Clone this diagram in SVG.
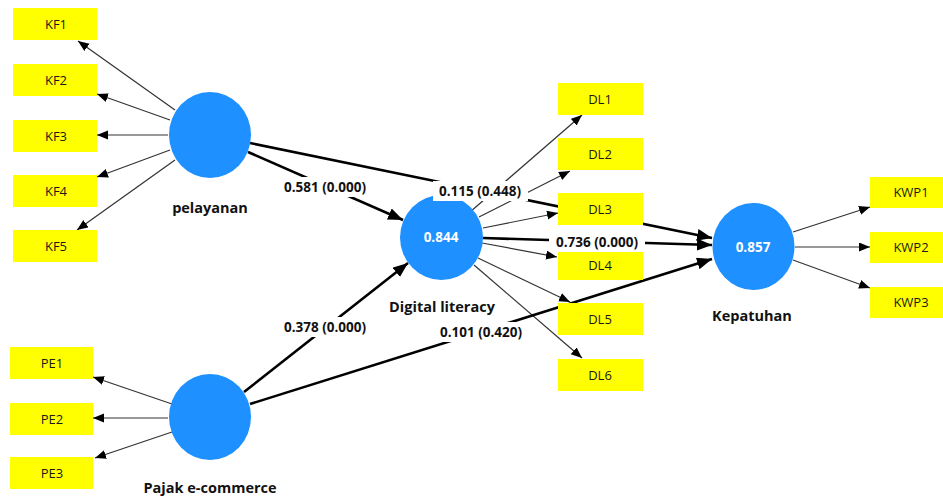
<svg xmlns="http://www.w3.org/2000/svg" width="943" height="496" viewBox="0 0 943 496">
<style>
.box{fill:#ffff00}
.bt{font-family:"Open Sans","Noto Sans",sans-serif;font-size:13px;fill:#1a1a1a;text-anchor:middle;dominant-baseline:central}
.lv{fill:#1e90ff}
.lt{font-family:"Open Sans","Noto Sans",sans-serif;font-size:14.5px;font-weight:bold;fill:#111;text-anchor:middle;dominant-baseline:central}
.vt{font-family:"Open Sans","Noto Sans",sans-serif;font-size:13.5px;font-weight:bold;fill:#fff;text-anchor:middle;dominant-baseline:central}
.pt{font-family:"Open Sans","Noto Sans",sans-serif;font-size:13.5px;font-weight:bold;fill:#111;text-anchor:middle;dominant-baseline:central}
.pb{fill:#fff}
.thin{stroke:#333;stroke-width:1.2;fill:none;marker-end:url(#a)}
.thick{stroke:#000;stroke-width:2.6;fill:none;marker-end:url(#b)}
</style>
<defs>
<marker id="a" markerUnits="userSpaceOnUse" markerWidth="12" markerHeight="10" refX="11" refY="4.5" orient="auto"><path d="M0,0 L11,4.5 L0,9 z" fill="#000"/></marker>
<marker id="b" markerUnits="userSpaceOnUse" markerWidth="17" markerHeight="13" refX="15" refY="6" orient="auto"><path d="M0,0 L15,6 L0,12 z" fill="#000"/></marker>
</defs>
<rect width="943" height="496" fill="#fff"/>
<g id="connectors">
<line class="thin" x1="175" y1="110" x2="78" y2="41"/>
<line class="thin" x1="170" y1="120" x2="97" y2="94"/>
<line class="thin" x1="168" y1="135" x2="97" y2="135"/>
<line class="thin" x1="170" y1="150" x2="97" y2="177"/>
<line class="thin" x1="175" y1="160" x2="77" y2="230"/>
<line class="thin" x1="172" y1="404" x2="93" y2="377"/>
<line class="thin" x1="168" y1="418" x2="93" y2="418"/>
<line class="thin" x1="172" y1="432" x2="95" y2="458"/>
<line class="thin" x1="470" y1="212" x2="582" y2="115"/>
<line class="thin" x1="479" y1="217" x2="570" y2="171"/>
<line class="thin" x1="483" y1="228" x2="558" y2="213"/>
<line class="thin" x1="482" y1="243" x2="557" y2="257"/>
<line class="thin" x1="478" y1="258" x2="570" y2="302"/>
<line class="thin" x1="474" y1="265" x2="582" y2="358"/>
<line class="thin" x1="793" y1="232" x2="870" y2="207"/>
<line class="thin" x1="795" y1="247" x2="870" y2="247"/>
<line class="thin" x1="793" y1="260" x2="870" y2="288"/>
<line class="thick" x1="248" y1="152" x2="403" y2="220"/>
<line class="thick" x1="250" y1="143" x2="712" y2="238"/>
<line class="thick" x1="244" y1="392" x2="408" y2="263"/>
<line class="thick" x1="250" y1="404" x2="712" y2="259"/>
<line class="thick" x1="483" y1="238" x2="712" y2="245"/>
</g>
<g id="KF1"><rect class="box" x="13" y="8" width="84" height="32"/><text class="bt" x="56" y="24">KF1</text></g>
<g id="KF2"><rect class="box" x="13" y="64" width="84" height="32"/><text class="bt" x="56" y="80">KF2</text></g>
<g id="KF3"><rect class="box" x="13" y="120" width="84" height="32"/><text class="bt" x="56" y="136">KF3</text></g>
<g id="KF4"><rect class="box" x="13" y="175" width="84" height="32"/><text class="bt" x="56" y="191">KF4</text></g>
<g id="KF5"><rect class="box" x="13" y="230" width="84" height="32"/><text class="bt" x="56" y="246">KF5</text></g>
<g id="PE1"><rect class="box" x="10" y="347" width="83" height="32"/><text class="bt" x="52" y="363">PE1</text></g>
<g id="PE2"><rect class="box" x="10" y="403" width="83" height="32"/><text class="bt" x="52" y="419">PE2</text></g>
<g id="PE3"><rect class="box" x="10" y="457" width="83" height="32"/><text class="bt" x="52" y="473">PE3</text></g>
<g id="DL1"><rect class="box" x="558" y="83" width="85" height="32"/><text class="bt" x="600" y="99">DL1</text></g>
<g id="DL2"><rect class="box" x="558" y="138" width="85" height="32"/><text class="bt" x="600" y="154">DL2</text></g>
<g id="DL3"><rect class="box" x="558" y="193" width="85" height="32"/><text class="bt" x="600" y="209">DL3</text></g>
<g id="DL4"><rect class="box" x="558" y="248" width="85" height="32"/><text class="bt" x="600" y="265">DL4</text></g>
<g id="DL5"><rect class="box" x="558" y="303" width="85" height="32"/><text class="bt" x="600" y="319">DL5</text></g>
<g id="DL6"><rect class="box" x="558" y="359" width="85" height="32"/><text class="bt" x="600" y="375">DL6</text></g>
<g id="KWP1"><rect class="box" x="870" y="177" width="83" height="31"/><text class="bt" x="911" y="192">KWP1</text></g>
<g id="KWP2"><rect class="box" x="870" y="232" width="83" height="31"/><text class="bt" x="911" y="247">KWP2</text></g>
<g id="KWP3"><rect class="box" x="870" y="287" width="83" height="31"/><text class="bt" x="911" y="302">KWP3</text></g>
<g id="pelayanan"><ellipse class="lv" cx="210" cy="135" rx="41" ry="43"/><text class="lt" x="210" y="207">pelayanan</text></g>
<g id="pajak"><ellipse class="lv" cx="210" cy="417" rx="41" ry="43"/><text class="lt" x="210" y="487">Pajak e-commerce</text></g>
<g id="digital"><ellipse class="lv" cx="441.5" cy="237.5" rx="41.5" ry="42.5"/><text class="vt" x="441" y="237">0.844</text><text class="lt" x="442" y="306">Digital literacy</text></g>
<g id="kepatuhan"><ellipse class="lv" cx="753.5" cy="246.5" rx="41" ry="43.5"/><text class="vt" x="753" y="247">0.857</text><text class="lt" x="752" y="315">Kepatuhan</text></g>
<g id="labels">
<rect class="pb" x="279" y="177" width="92" height="20"/><text class="pt" x="325" y="187">0.581 (0.000)</text>
<rect class="pb" x="433" y="181" width="95" height="20"/><text class="pt" x="480" y="191">0.115 (0.448)</text>
<rect class="pb" x="549" y="232" width="96" height="20"/><text class="pt" x="597" y="242">0.736 (0.000)</text>
<rect class="pb" x="279" y="317" width="92" height="20"/><text class="pt" x="325" y="327">0.378 (0.000)</text>
<rect class="pb" x="434" y="322" width="94" height="20"/><text class="pt" x="481" y="332">0.101 (0.420)</text>
</g>
</svg>
